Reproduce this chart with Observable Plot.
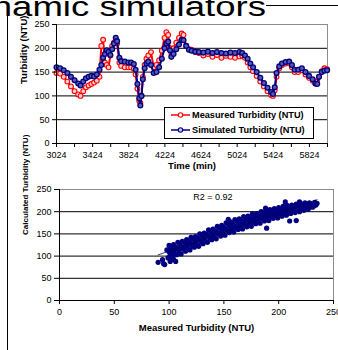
<!DOCTYPE html>
<html>
<head>
<meta charset="utf-8">
<script src="https://cdn.jsdelivr.net/npm/d3@7"></script>
<script src="https://cdn.jsdelivr.net/npm/@observablehq/plot@0.6"></script>
<style>
  html, body { margin: 0; padding: 0; background: white; }
  #root { position: relative; width: 338px; height: 350px; overflow: hidden; background: white; font-family: 'Liberation Sans', Arial, sans-serif; }
  #topChart, #bottomChart { position: absolute; left: 0; }
  #topChart { top: 0; }
  #bottomChart { top: 175px; }
  #overlay { position: absolute; left: 0; top: 0; }
</style>
</head>
<body>
<div id="root">
  <div id="topChart"></div>
  <div id="bottomChart"></div>
  <svg id="overlay" width="338" height="350"></svg>
</div>
<script>
// ---------- data ----------
const titleText = "Dynamic simulators";
const seriesNames = ["Measured Turbidity (NTU)", "Simulated Turbidity (NTU)"];
const seriesColors = ["#ff0000", "#000080"];

const times = [3024,3064,3104,3144,3184,3224,3264,3290,3320,3350,3380,3410,3440,3470,3500,3520,3540,3560,3580,3600,
  3620,3640,3660,3680,3695,3720,3740,3780,3820,3850,3880,3900,3920,3940,3952,3965,3980,4000,4020,4040,
  4070,4100,4130,4160,4190,4220,4240,4260,4280,4295,4320,4350,4380,4410,4430,4460,4490,4520,4560,4600,
  4650,4700,4750,4800,4850,4900,4950,5000,5050,5080,5110,5140,5170,5200,5240,5280,5320,5360,5400,5420,
  5440,5460,5490,5520,5560,5600,5630,5660,5700,5740,5780,5820,5860,5890,5910,5930,5960,5990,6020];

const measured = [148,147,140,130,120,110,103,100,110,118,122,125,128,132,140,205,218,170,165,160,
  185,205,212,217,210,170,163,160,160,160,157,145,115,90,85,100,140,165,178,185,
  192,160,165,175,195,222,234,228,200,190,200,212,222,231,228,205,198,197,192,190,
  185,188,182,186,180,184,182,180,183,185,180,170,160,152,142,130,120,110,102,100,
  112,140,158,165,168,168,160,150,150,154,145,138,132,126,130,140,152,158,156];

const simulated = [160,158,154,148,140,133,126,122,130,137,140,142,141,145,155,165,180,188,196,192,
  186,198,210,222,215,180,173,172,170,170,167,155,125,95,80,100,135,158,168,172,
  165,148,150,160,178,200,210,214,196,182,188,198,208,218,217,205,197,195,193,192,
  191,193,190,192,190,189,191,190,192,190,185,178,168,160,150,138,127,117,108,104,
  118,148,162,168,171,172,165,155,155,158,150,142,135,126,125,140,150,153,154];

const turbidityTicks = [0, 50, 100, 150, 200, 250];
const timeTicks = [3024,3224,3424,3624,3824,4024,4224,4424,4624,4824,5024,5224,5424,5624,5824,6024];
const timeTickLabels = [3024,3424,3824,4224,4624,5024,5424,5824];
const measuredTicks = [0, 50, 100, 150, 200, 250];
const r2Label = "R2 = 0.92";

// scatter: measured vs calculated turbidity
const scatterMeasured = [
  99,101,98,100,100, 103,105,102,104,104, 107,109,106,108,108, 111,113,110,112,112, 115,117,114,116,116,
  119,121,118,120,120, 123,125,122,124,124, 127,129,126,128,128, 131,133,130,132,132, 135,137,134,136,136,
  139,141,138,140,140, 143,145,142,144,144, 147,149,146,148,148, 151,153,150,152,152, 155,157,154,156,156,
  159,161,158,160,160, 163,165,162,164,164, 167,169,166,168,168, 171,173,170,172,172, 175,177,174,176,176,
  179,181,178,180,180, 183,185,182,184,184, 187,189,186,188,188, 191,193,190,192,192, 195,197,194,196,196,
  199,201,198,200,200, 203,205,202,204,204, 207,209,206,208,208, 211,213,210,212,212, 215,217,214,216,216,
  219,221,218,220,220, 223,225,222,224,224, 227,229,226,228,228, 231,232,230,233, 234,235,
  90,94,96,101,106,95,154,188,206,219,189,210,216,100,104];
const scatterCalculated = [
  96,106,114,124,110, 100,107,119,126,113, 103,112,120,131,116, 105,116,124,133,120, 111,118,130,137,124,
  114,124,132,142,128, 120,126,138,144,132, 122,132,140,150,136, 128,134,146,152,140, 131,141,149,159,145,
  137,143,155,161,149, 139,149,157,167,153, 145,151,163,169,157, 147,157,165,175,161, 153,159,171,177,165,
  154,164,172,182,168, 160,166,178,184,172, 161,171,179,189,175, 166,172,184,190,178, 167,177,185,195,181,
  173,179,189,196,184, 174,184,190,200,187, 179,185,195,201,190, 180,190,196,205,193, 185,190,200,207,195,
  186,195,201,209,198, 190,197,203,212,200, 192,200,206,214,203, 196,202,208,215,205, 198,204,210,217,207,
  200,206,212,219,209, 203,208,214,220,211, 206,211,215,220,213, 210,213,217,221, 215,219,
  86,92,81,88,88,83,183,208,222,222,163,179,180,97,93];

// ---------- tables ----------
const series = times.map((t, i) => ({t, measured: measured[i], simulated: simulated[i]}));
const scatter = scatterMeasured.map((m, i) => ({m, c: scatterCalculated[i]}));

const font = "'Liberation Sans', Arial, sans-serif";

// ---------- top chart ----------
const topPlot = Plot.plot({
  width: 338, height: 175,
  marginLeft: 56, marginRight: 11, marginTop: 24, marginBottom: 32,
  x: {domain: [3024, 6024]},
  y: {domain: [0, 250]},
  style: {fontFamily: font, fontSize: "9px", color: "black", background: "transparent", overflow: "visible"},
  marks: [
    Plot.frame({stroke: "#8c8c8c"}),
    Plot.ruleY(turbidityTicks.filter(d => d > 0 && d < 250), {stroke: "black", strokeWidth: 1}),
    Plot.line(series, {x: "t", y: "measured", stroke: seriesColors[0], strokeWidth: 2}),
    Plot.dot(series, {x: "t", y: "measured", r: 2.4, stroke: seriesColors[0], fill: "#ffd0d0", strokeWidth: 1.1}),
    Plot.line(series, {x: "t", y: "simulated", stroke: seriesColors[1], strokeWidth: 2}),
    Plot.dot(series, {x: "t", y: "simulated", r: 2.4, stroke: seriesColors[1], fill: "#5a5ab0", strokeWidth: 1.3}),
    Plot.ruleX([3024], {stroke: "black"}),
    Plot.ruleY([0], {stroke: "black"}),
    Plot.axisY({ticks: turbidityTicks, tickSize: 4, tickPadding: 3, label: null}),
    Plot.axisX({ticks: timeTicks, tickSize: 4, tickPadding: 4, label: null,
      tickFormat: d => timeTickLabels.includes(d) ? String(d) : ""}),
    Plot.text(["Time (min)"], {text: d => d, frameAnchor: "bottom", dy: 25, fontWeight: "bold", fontSize: 9.5}),
    Plot.text(["Turbidity (NTU)"], {text: d => d, frameAnchor: "left", dx: -33, rotate: -90, fontWeight: "bold", fontSize: 9.5})
  ]
});
document.getElementById("topChart").append(topPlot);

// ---------- bottom chart ----------
const bottomPlot = Plot.plot({
  width: 338, height: 175,
  marginLeft: 59, marginRight: 5, marginTop: 14, marginBottom: 50,
  x: {domain: [0, 250]},
  y: {domain: [0, 250]},
  style: {fontFamily: font, fontSize: "9px", color: "black", background: "transparent", overflow: "visible"},
  marks: [
    Plot.frame({stroke: "#8c8c8c"}),
    Plot.ruleY(turbidityTicks.filter(d => d > 0 && d < 250), {stroke: "black", strokeWidth: 1}),
    Plot.dot(scatter, {x: "m", y: "c", r: 2.6, fill: "#000080"}),
    Plot.linearRegressionY(scatter, {x: "m", y: "c", stroke: "#000050", strokeWidth: 0.8, ci: 0}),
    Plot.ruleX([0], {stroke: "black"}),
    Plot.ruleY([0], {stroke: "black"}),
    Plot.axisY({ticks: turbidityTicks, tickSize: 5, tickPadding: 3, label: null}),
    Plot.axisX({ticks: measuredTicks, tickSize: 4, tickPadding: 4, label: null}),
    Plot.text([r2Label], {text: d => d, x: 140, y: 232, fontSize: 9}),
    Plot.text(["Measured Turbidity (NTU)"], {text: d => d, frameAnchor: "bottom", dy: 30, fontWeight: "bold", fontSize: 9.5}),
    Plot.text(["Calculated Turbidity (NTU)"], {text: d => d, frameAnchor: "left", dx: -34, dy: -10, rotate: -90, fontWeight: "bold", fontSize: 8})
  ]
});
document.getElementById("bottomChart").append(bottomPlot);

// ---------- overlay: frame, title, legend ----------
const svg = d3.select("#overlay");
svg.append("line").attr("x1", 7).attr("x2", 338).attr("y1", 5.5).attr("y2", 5.5).attr("stroke", "black");
svg.append("line").attr("x1", 7.5).attr("x2", 7.5).attr("y1", 5).attr("y2", 350).attr("stroke", "black");
svg.append("rect").attr("x", 0).attr("y", 0).attr("width", 266).attr("height", 16).attr("fill", "white");
svg.append("text")
  .attr("transform", "translate(266,16) scale(1.33,1)")
  .attr("text-anchor", "end")
  .attr("font-family", font)
  .attr("font-size", 27.5)
  .attr("fill", "black")
  .text(titleText);

const lg = svg.append("g");
lg.append("rect").attr("x", 164.5).attr("y", 107.5).attr("width", 149).attr("height", 31)
  .attr("fill", "white").attr("stroke", "black");
seriesNames.forEach((name, i) => {
  const y = 115 + i * 15;
  lg.append("line").attr("x1", 171).attr("x2", 190).attr("y1", y).attr("y2", y)
    .attr("stroke", seriesColors[i]).attr("stroke-width", 1.5);
  lg.append("circle").attr("cx", 180.5).attr("cy", y).attr("r", 2.2)
    .attr("stroke", seriesColors[i]).attr("fill", i === 0 ? "white" : "#c8c8ff").attr("stroke-width", 1.1);
  lg.append("text").attr("x", 192).attr("y", y).attr("dy", "0.35em")
    .attr("font-family", font).attr("font-size", 9.2).attr("font-weight", "bold")
    .attr("fill", "black").text(name);
});
</script>
</body>
</html>
